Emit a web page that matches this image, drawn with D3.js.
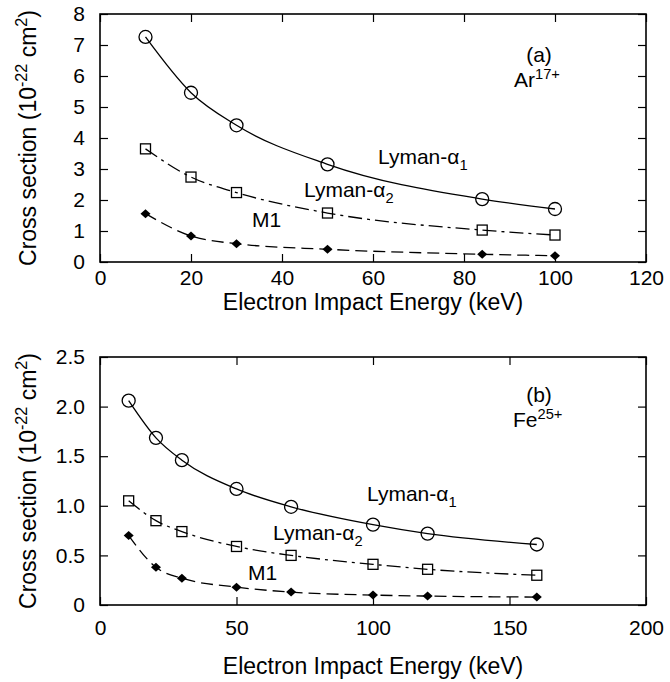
<!DOCTYPE html>
<html>
<head>
<meta charset="utf-8">
<script src="https://cdn.jsdelivr.net/npm/d3@7"></script>
<style>
  body { margin: 0; background: #fff; }
  svg text { font-family: "Liberation Sans", Arial, Helvetica, sans-serif; fill: #000; }
</style>
</head>
<body>
<svg id="drawing_region"></svg>
<script>
// panel (a): Ar17+
const energyA = [10, 20, 30, 50, 84, 100];
const lymanA1_a = [7.26, 5.46, 4.41, 3.15, 2.03, 1.71];
const lymanA2_a = [3.65, 2.74, 2.24, 1.58, 1.03, 0.87];
const m1_a = [1.56, 0.84, 0.59, 0.41, 0.25, 0.20];
const xTicksA = [0, 20, 40, 60, 80, 100, 120];
const yTicksA = [0, 1, 2, 3, 4, 5, 6, 7, 8];
const yLabelsA = ['0', '1', '2', '3', '4', '5', '6', '7', '8'];

// panel (b): Fe25+
const energyB = [10.5, 20.5, 30, 50, 70, 100, 120, 160];
const lymanA1_b = [2.06, 1.685, 1.46, 1.17, 0.99, 0.81, 0.72, 0.61];
const lymanA2_b = [1.05, 0.85, 0.74, 0.59, 0.50, 0.41, 0.36, 0.30];
const m1_b = [0.70, 0.38, 0.27, 0.18, 0.13, 0.10, 0.09, 0.08];
const xTicksB = [0, 50, 100, 150, 200];
const yTicksB = [0, 0.5, 1.0, 1.5, 2.0, 2.5];
const yLabelsB = ['0', '0.5', '1.0', '1.5', '2.0', '2.5'];

const svg = d3.select('#drawing_region')
    .attr('width', 670)
    .attr('height', 682);

// text with sub/superscripts, parts = [{t, sup|sub}]
function richText(g, x, y, parts, size, anchor) {
    const txt = g.append('text')
        .attr('x', x).attr('y', y)
        .attr('font-size', size)
        .attr('text-anchor', anchor || 'start');
    let shift = 0;
    parts.forEach(p => {
        let target = p.sup ? -0.38 * size : (p.sub ? 0.3 * size : 0);
        txt.append('tspan')
            .attr('dy', target - shift)
            .attr('font-size', (p.sup || p.sub) ? size * 0.7 : size)
            .text(p.t);
        shift = target;
    });
    return txt;
}

function panel(cfg) {
    const x = d3.scaleLinear().domain(cfg.xdom).range([100, 646]);
    const y = d3.scaleLinear().domain(cfg.ydom).range([cfg.bottom, cfg.top]);
    const g = svg.append('g');

    // axes, ticks pointing inward
    const xb = g.append('g').attr('transform', `translate(0,${cfg.bottom})`)
        .call(d3.axisBottom(x).tickValues(cfg.xticks).tickSizeInner(-8).tickSizeOuter(0).tickPadding(cfg.xpad));
    const xt = g.append('g').attr('transform', `translate(0,${cfg.top})`)
        .call(d3.axisTop(x).tickValues(cfg.xticks).tickSizeInner(-8).tickSizeOuter(0).tickFormat(''));
    const yl = g.append('g').attr('transform', 'translate(100,0)')
        .call(d3.axisLeft(y).tickValues(cfg.yticks).tickSizeInner(-8).tickSizeOuter(0).tickPadding(15)
            .tickFormat((d, i) => cfg.ylabels[i]));
    const yr = g.append('g').attr('transform', 'translate(646,0)')
        .call(d3.axisRight(y).tickValues(cfg.yticks).tickSizeInner(-8).tickSizeOuter(0).tickFormat(''));
    [xb, xt, yl, yr].forEach(a => {
        a.select('.domain').remove();
        a.selectAll('.tick line').attr('stroke', '#000').attr('stroke-width', 1.2);
        a.selectAll('.tick text').attr('font-size', 21).attr('font-family', null);
    });
    g.append('rect')
        .attr('x', 100).attr('y', cfg.top)
        .attr('width', 546).attr('height', cfg.bottom - cfg.top)
        .attr('fill', 'none').attr('stroke', '#000').attr('stroke-width', 1.6);

    const line = d3.line()
        .x(d => x(d[0])).y(d => y(d[1]))
        .curve(d3.curveMonotoneX);

    const series = [
        { vals: cfg.ly1, dash: null, mark: 'circle' },
        { vals: cfg.ly2, dash: '14,5,3,5', mark: 'square' },
        { vals: cfg.m1, dash: '12,6', mark: 'diamond' }
    ];
    series.forEach(s => {
        const pts = cfg.energy.map((e, i) => [e, s.vals[i]]);
        g.append('path')
            .attr('d', line(pts))
            .attr('fill', 'none')
            .attr('stroke', '#000')
            .attr('stroke-width', 1.3)
            .attr('stroke-dasharray', s.dash);
        const m = g.selectAll(null).data(pts).enter();
        if (s.mark === 'circle') {
            m.append('circle')
                .attr('cx', d => x(d[0])).attr('cy', d => y(d[1])).attr('r', 6.5)
                .attr('fill', 'none').attr('stroke', '#000').attr('stroke-width', 1.3);
        } else if (s.mark === 'square') {
            m.append('rect')
                .attr('x', d => x(d[0]) - 5).attr('y', d => y(d[1]) - 5)
                .attr('width', 10).attr('height', 10)
                .attr('fill', 'none').attr('stroke', '#000').attr('stroke-width', 1.3);
        } else {
            m.append('path')
                .attr('d', d => {
                    const cx = x(d[0]), cy = y(d[1]);
                    return `M${cx - 5},${cy}L${cx},${cy - 4.5}L${cx + 5},${cy}L${cx},${cy + 4.5}Z`;
                })
                .attr('fill', '#000');
        }
    });

    // axis titles
    svg.append('text')
        .attr('x', 373).attr('y', cfg.xtitleY)
        .attr('text-anchor', 'middle')
        .attr('font-size', 23)
        .text('Electron Impact Energy (keV)');
    const yt = richText(svg, 0, 0, [
        { t: 'Cross section (10' }, { t: '-22', sup: true }, { t: ' cm' }, { t: '2', sup: true }, { t: ')' }
    ], 23, 'middle');
    yt.attr('transform', `translate(36,${(cfg.top + cfg.bottom) / 2}) rotate(-90)`);

    // in-plot labels
    richText(svg, cfg.l1[0], cfg.l1[1], [{ t: 'Lyman-α' }, { t: '1', sub: true }], 21);
    richText(svg, cfg.l2[0], cfg.l2[1], [{ t: 'Lyman-α' }, { t: '2', sub: true }], 21);
    richText(svg, cfg.lm[0], cfg.lm[1], [{ t: 'M1' }], 21);
    richText(svg, 539, cfg.tagY, [{ t: cfg.tag }], 21, 'middle');
    richText(svg, cfg.ion[0], cfg.ion[1], [{ t: cfg.ionName }, { t: cfg.ionCharge, sup: true }], 21);
}

panel({
    xdom: [0, 120], ydom: [0, 8], top: 14, bottom: 262,
    xticks: xTicksA, yticks: yTicksA, ylabels: yLabelsA,
    energy: energyA, ly1: lymanA1_a, ly2: lymanA2_a, m1: m1_a,
    xpad: 8, xtitleY: 310,
    l1: [378, 164], l2: [304, 197], lm: [252, 227],
    tag: '(a)', tagY: 62, ion: [514, 87], ionName: 'Ar', ionCharge: '17+'
});

panel({
    xdom: [0, 200], ydom: [0, 2.5], top: 357, bottom: 605,
    xticks: xTicksB, yticks: yTicksB, ylabels: yLabelsB,
    energy: energyB, ly1: lymanA1_b, ly2: lymanA2_b, m1: m1_b,
    xpad: 15, xtitleY: 674,
    l1: [367, 501], l2: [273, 540], lm: [248, 580],
    tag: '(b)', tagY: 402, ion: [513, 427], ionName: 'Fe', ionCharge: '25+'
});
</script>
</body>
</html>
